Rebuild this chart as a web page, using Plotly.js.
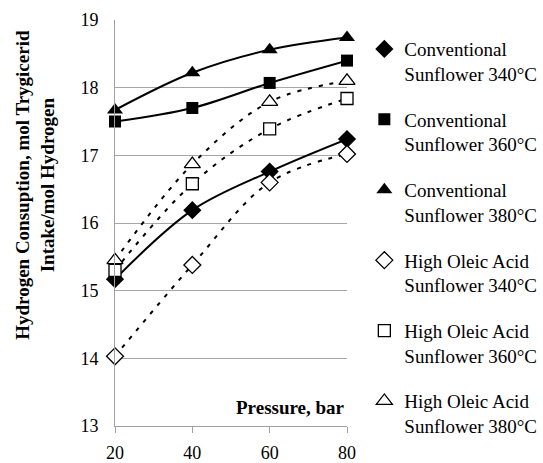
<!DOCTYPE html>
<html>
<head>
<meta charset="utf-8">
<script src="https://cdn.plot.ly/plotly-3.0.1.min.js"></script>
<style>html,body{margin:0;padding:0;background:#fff;}#chart{width:543px;height:463px;}</style>
</head>
<body>
<div id="chart"></div>
<script>
const pressure = [20, 40, 60, 80];
const conv340 = [15.17, 16.19, 16.76, 17.24];
const conv360 = [17.50, 17.70, 18.07, 18.40];
const conv380 = [17.67, 18.22, 18.56, 18.74];
const hoa340 = [14.03, 15.38, 16.60, 17.02];
const hoa360 = [15.30, 16.58, 17.39, 17.84];
const hoa380 = [15.45, 16.87, 17.79, 18.10];
const seriesNames = [
  "Conventional<br>Sunflower 340°C",
  "Conventional<br>Sunflower 360°C",
  "Conventional<br>Sunflower 380°C",
  "High Oleic Acid<br>Sunflower 340°C",
  "High Oleic Acid<br>Sunflower 360°C",
  "High Oleic Acid<br>Sunflower 380°C"
];
const xTicks = [20, 40, 60, 80];
const yTicks = [13, 14, 15, 16, 17, 18, 19];
const yTitle = '<b>Hydrogen Consuption, mol Trygicerid<br>Intake/mol Hydrogen</b>';
const xTitle = '<b>Pressure, bar</b>';

const serif = "Liberation Serif, Times New Roman, serif";
const series = [
  {y: conv340, name: seriesNames[0], symbol: 'diamond', size: 14, open: false},
  {y: conv360, name: seriesNames[1], symbol: 'square', size: 12, open: false},
  {y: conv380, name: seriesNames[2], symbol: 'triangle-up', size: 14, open: false},
  {y: hoa340, name: seriesNames[3], symbol: 'diamond', size: 13, open: true},
  {y: hoa360, name: seriesNames[4], symbol: 'square', size: 12, open: true},
  {y: hoa380, name: seriesNames[5], symbol: 'triangle-up', size: 14, open: true}
];
const lineTraces = series.map((s, i) => ({
  x: pressure, y: s.y, type: 'scatter', mode: 'lines', showlegend: false,
  hoverinfo: 'skip', cliponaxis: false,
  line: {color: '#000', width: 2, shape: 'spline', dash: s.open ? '4px,7px' : 'solid'}
}));
const markerTraces = series.map((s, i) => ({
  x: pressure, y: s.y, name: s.name, type: 'scatter', mode: 'markers',
  legendgroup: 'g' + i, cliponaxis: false,
  marker: {symbol: s.symbol, size: s.size, color: s.open ? '#fff' : '#000',
           line: {color: '#000', width: s.open ? 1.3 : 0}}
}));
const data = lineTraces.concat(markerTraces);

const layout = {
  width: 543, height: 463,
  margin: {l: 115, r: 196, t: 20, b: 37},
  paper_bgcolor: '#fff', plot_bgcolor: '#fff',
  font: {family: serif, size: 18, color: '#000'},
  showlegend: true,
  legend: {xref: 'container', yref: 'container', x: 0.671, xanchor: 'left', y: 0.935, yanchor: 'top', valign: 'top',
           maxheight: 1, itemwidth: 30,
           font: {family: serif, size: 19, color: '#000'}, tracegroupgap: 18,
           bgcolor: 'rgba(0,0,0,0)'},
  xaxis: {range: [20, 80], tickvals: xTicks, ticktext: xTicks.map(String),
          showgrid: false, zeroline: false, showline: true, linecolor: '#a0a0a0', linewidth: 1,
          ticks: 'outside', ticklen: 6, tickcolor: '#a0a0a0', ticklabelstandoff: 4,
          automargin: false,
          tickfont: {family: serif, size: 18, color: '#000'}},
  yaxis: {range: [13, 19], tickvals: yTicks, ticktext: yTicks.map(String),
          showgrid: true, gridcolor: '#a6a6a6', gridwidth: 1, zeroline: false,
          showline: true, linecolor: '#a0a0a0', linewidth: 1, ticks: '',
          ticklabelstandoff: 12, automargin: false,
          tickfont: {family: serif, size: 18, color: '#000'}},
  annotations: [
    {xref: 'x', yref: 'paper', x: 80, y: 0.045, xanchor: 'right', yanchor: 'middle',
     text: xTitle, showarrow: false, font: {family: serif, size: 19, color: '#000'}},
    {xref: 'paper', yref: 'paper', x: -0.345, y: 0.594, xanchor: 'center', yanchor: 'middle',
     textangle: -90, text: yTitle, showarrow: false, font: {family: serif, size: 19, color: '#000'}}
  ]
};
Plotly.newPlot('chart', data, layout, {displayModeBar: false, staticPlot: true});
</script>
</body>
</html>
